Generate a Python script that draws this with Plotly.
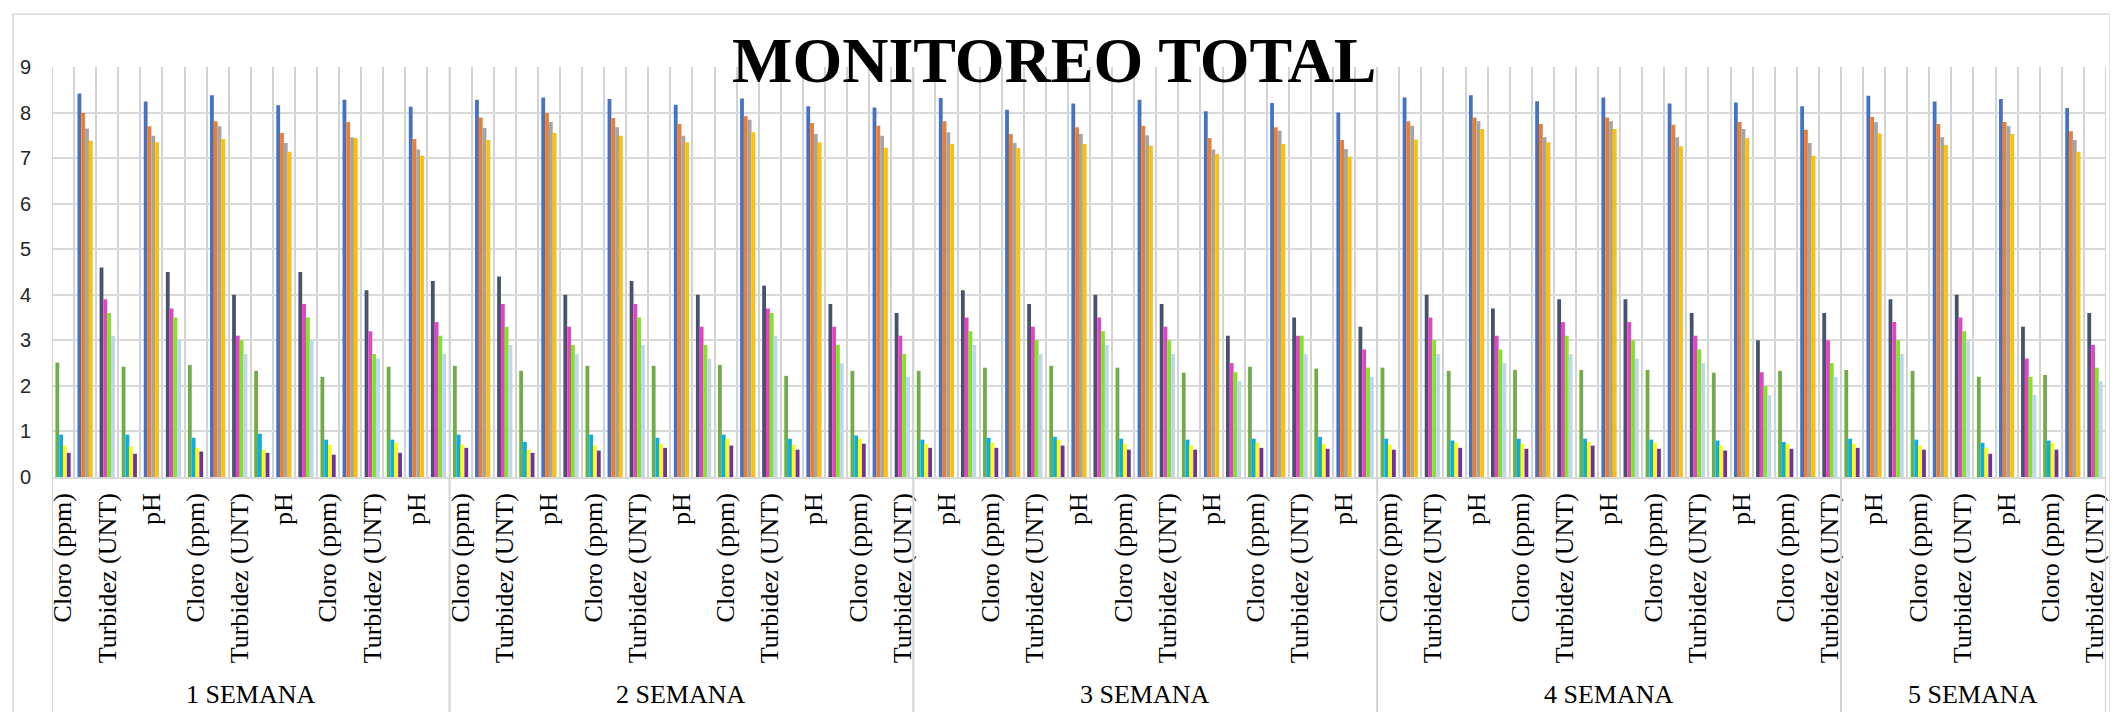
import plotly.graph_objects as go

# ---------------- data ----------------
PARAMS = ["Cloro (ppm)", "pH", "Turbidez (UNT)"]
WEEKS = ["1 SEMANA", "2 SEMANA", "3 SEMANA", "4 SEMANA", "5 SEMANA"]
DAYS_PER_WEEK = [6, 7, 7, 7, 4]

# Cloro (ppm) - four sampling points per day
CLORO_P1 = [2.51, 2.42, 2.46, 2.33, 2.20, 2.42, 2.44, 2.33, 2.44, 2.44, 2.46, 2.22, 2.33, 2.33, 2.40, 2.44,
            2.40, 2.29, 2.42, 2.38, 2.40, 2.33, 2.35, 2.35, 2.35, 2.29, 2.33, 2.35, 2.33, 2.20, 2.24]
CLORO_P2 = [0.93, 0.93, 0.86, 0.95, 0.82, 0.82, 0.93, 0.77, 0.93, 0.86, 0.93, 0.84, 0.91, 0.82, 0.86, 0.88,
            0.84, 0.82, 0.84, 0.88, 0.84, 0.80, 0.84, 0.84, 0.82, 0.80, 0.77, 0.84, 0.82, 0.75, 0.80]
CLORO_P3 = [0.69, 0.67, 0.64, 0.60, 0.71, 0.75, 0.71, 0.60, 0.69, 0.73, 0.84, 0.71, 0.84, 0.73, 0.75, 0.82,
            0.73, 0.69, 0.75, 0.73, 0.71, 0.75, 0.73, 0.77, 0.75, 0.69, 0.73, 0.73, 0.69, 0.64, 0.75]
CLORO_P4 = [0.53, 0.51, 0.56, 0.53, 0.49, 0.53, 0.64, 0.53, 0.58, 0.64, 0.69, 0.60, 0.73, 0.64, 0.64, 0.69,
            0.60, 0.60, 0.64, 0.62, 0.60, 0.64, 0.62, 0.69, 0.62, 0.58, 0.62, 0.64, 0.60, 0.51, 0.60]

# pH
PH_P1 = [8.42, 8.24, 8.38, 8.16, 8.28, 8.13, 8.28, 8.33, 8.30, 8.17, 8.31, 8.14, 8.11, 8.32, 8.06, 8.20,
         8.28, 8.03, 8.21, 8.00, 8.33, 8.38, 8.25, 8.33, 8.20, 8.22, 8.14, 8.37, 8.24, 8.30, 8.10]
PH_P2 = [7.99, 7.70, 7.81, 7.55, 7.79, 7.42, 7.89, 7.99, 7.88, 7.75, 7.92, 7.77, 7.71, 7.81, 7.53, 7.68,
         7.71, 7.44, 7.68, 7.40, 7.81, 7.89, 7.75, 7.89, 7.73, 7.79, 7.62, 7.90, 7.75, 7.79, 7.59]
PH_P3 = [7.65, 7.49, 7.70, 7.33, 7.46, 7.19, 7.66, 7.79, 7.68, 7.49, 7.84, 7.53, 7.49, 7.57, 7.33, 7.53,
         7.50, 7.19, 7.60, 7.20, 7.71, 7.81, 7.46, 7.81, 7.46, 7.64, 7.33, 7.79, 7.46, 7.70, 7.40]
PH_P4 = [7.38, 7.35, 7.42, 7.14, 7.44, 7.05, 7.40, 7.55, 7.49, 7.35, 7.57, 7.35, 7.23, 7.31, 7.22, 7.31,
         7.27, 7.09, 7.31, 7.03, 7.41, 7.64, 7.35, 7.64, 7.26, 7.44, 7.05, 7.54, 7.29, 7.53, 7.14]

# Turbidez (UNT)
TURB_P1 = [4.6, 4.5, 4.0, 4.5, 4.1, 4.3, 4.4, 4.0, 4.3, 4.0, 4.2, 3.8, 3.6, 4.1, 3.8, 4.0,
           3.8, 3.1, 3.5, 3.3, 4.0, 3.7, 3.9, 3.9, 3.6, 3.0, 3.6, 3.9, 4.0, 3.3, 3.6]
TURB_P2 = [3.9, 3.7, 3.1, 3.8, 3.2, 3.4, 3.8, 3.3, 3.8, 3.3, 3.7, 3.3, 3.1, 3.5, 3.3, 3.5,
           3.3, 2.5, 3.1, 2.8, 3.5, 3.1, 3.4, 3.4, 3.1, 2.3, 3.0, 3.4, 3.5, 2.6, 2.9]
TURB_P3 = [3.6, 3.5, 3.0, 3.5, 2.7, 3.1, 3.3, 2.9, 3.5, 2.9, 3.6, 2.9, 2.7, 3.2, 3.0, 3.2,
           3.0, 2.3, 3.1, 2.4, 3.0, 2.8, 3.1, 3.0, 2.8, 2.0, 2.5, 3.0, 3.2, 2.2, 2.4]
TURB_P4 = [3.1, 3.0, 2.7, 3.0, 2.6, 2.7, 2.9, 2.7, 2.9, 2.6, 3.1, 2.5, 2.2, 2.9, 2.7, 2.9,
           2.7, 2.1, 2.7, 2.2, 2.7, 2.5, 2.7, 2.6, 2.5, 1.8, 2.2, 2.7, 3.0, 1.8, 2.1]

SERIES = {
    "Cloro (ppm)": [CLORO_P1, CLORO_P2, CLORO_P3, CLORO_P4],
    "pH": [PH_P1, PH_P2, PH_P3, PH_P4],
    "Turbidez (UNT)": [TURB_P1, TURB_P2, TURB_P3, TURB_P4],
}
COLORS = {
    "Cloro (ppm)": ["#70AD47", "#00B0F0", "#FFFF00", "#7030A0"],
    "pH": ["#4472C4", "#ED7D31", "#A5A5A5", "#FFC000"],
    "Turbidez (UNT)": ["#44546A", "#E83FCC", "#7EE81C", "#BDD7EE"],
}

n_days = sum(DAYS_PER_WEEK)
n_cat = n_days * len(PARAMS)
cat_labels = [PARAMS[i % 3] for i in range(n_cat)]

fig = go.Figure()
for pi, p in enumerate(PARAMS):
    xs = [3 * d + pi for d in range(n_days)]
    for k in range(4):
        fig.add_trace(go.Bar(
            x=xs, y=SERIES[p][k], name=f"{p} {k + 1}",
            offsetgroup=str(k), marker_color=COLORS[p][k], marker_line_width=0,
        ))

GRID = "#D9D9D9"
VGRID = "#D3D3D3"
PLOT_W = 2118 - 42 - 20
cat_px = PLOT_W / n_cat

fig.update_layout(
    width=2118, height=712,
    margin=dict(l=42, r=20, t=59, b=243),
    barmode="group", bargap=0.31, bargroupgap=0,
    showlegend=False,
    paper_bgcolor="white", plot_bgcolor="white",
)

# ticks sit on category boundaries (-> vertical gridlines); the label of the
# category to the right of each boundary is shifted half a category to its centre
boundary_vals = [i - 0.5 for i in range(n_cat + 1)]
boundary_text = [cat_labels[i] if (i < n_cat and i % 2 == 0) else "" for i in range(n_cat + 1)]
fig.update_xaxes(
    range=[-0.5, n_cat - 0.5],
    tickmode="array", tickvals=boundary_vals, ticktext=boundary_text,
    tickangle=-90, ticklabelshift=round(cat_px / 2),
    tickfont=dict(family="Liberation Serif", size=26, color="black"),
    ticks="", ticklabelstandoff=4,
    showgrid=True, gridcolor=VGRID, gridwidth=2,
    showline=True, linecolor=GRID, linewidth=1.5,
    zeroline=False,
)
fig.update_yaxes(
    range=[0, 9], dtick=1,
    showgrid=True, gridcolor=GRID, gridwidth=1.5,
    tickfont=dict(family="Liberation Sans", size=20, color="#262626"),
    ticks="", ticklabelstandoff=20,
    zeroline=False, showline=False,
)

# week group dividers and labels
plot_h = 712 - 59 - 243
bottom_paper = (plot_h - (708 - 59)) / plot_h
start = 0
bounds = [-0.5]
for wi, nd in enumerate(DAYS_PER_WEEK):
    end = start + nd * 3
    bounds.append(end - 0.5)
    fig.add_annotation(
        x=(start + end - 1) / 2, xref="x",
        y=(plot_h - (686 - 59)) / plot_h, yref="paper", yanchor="middle",
        text=WEEKS[wi], showarrow=False,
        font=dict(family="Liberation Serif", size=26, color="black"),
    )
    start = end
for b in bounds:
    fig.add_shape(type="line", xref="x", yref="paper", x0=b, x1=b, y0=bottom_paper, y1=1,
                  line=dict(color=VGRID, width=2))

# chart area border
fig.add_shape(type="rect", xref="paper", yref="paper",
              x0=(3 - 42) / 2056, x1=(2102 - 42) / 2056,
              y0=(plot_h - (709 - 59)) / plot_h, y1=(plot_h - (6 - 59)) / plot_h,
              line=dict(color=GRID, width=1.5), fillcolor="rgba(0,0,0,0)", layer="below")

# title
fig.add_annotation(
    x=(1045 - 42) / 2056, xref="paper", xanchor="center",
    y=(plot_h - (53 - 59)) / plot_h, yref="paper", yanchor="middle",
    text="<b>MONITOREO TOTAL</b>", showarrow=False,
    font=dict(family="Liberation Serif", size=64, color="black"),
)

fig.write_html("out.html")
